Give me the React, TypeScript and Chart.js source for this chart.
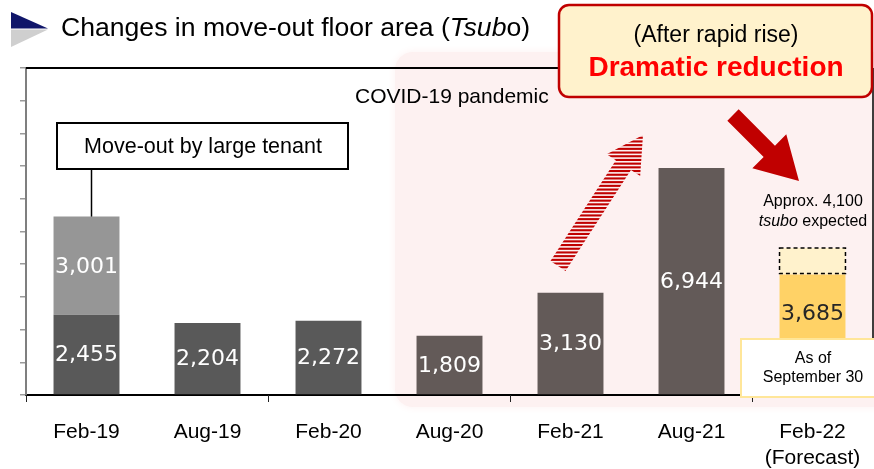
import React, { useEffect, useRef } from "react";
import { Chart, registerables } from "chart.js";

Chart.register(...registerables);

// ---------- data ----------
const categories: (string | string[])[] = [
  "Feb-19",
  "Aug-19",
  "Feb-20",
  "Aug-20",
  "Feb-21",
  "Aug-21",
  ["Feb-22", "(Forecast)"],
];
const moveOutArea = [2455, 2204, 2272, 1809, 3130, 6944, 3685];
const largeTenantArea = [3001, null, null, null, null, null, null];
const forecastRemainder = [null, null, null, null, null, null, 810];
const yMin = 0;
const yMax = 10000;
const yStep = 1000;

const moveOutColors = ["#595959", "#595959", "#595959", "#635a58", "#635a58", "#635a58", "#FFD266"];
const moveOutLabelColors = ["#ffffff", "#ffffff", "#ffffff", "#ffffff", "#ffffff", "#ffffff", "#262626"];
const largeTenantColor = "#969696";
const forecastColor = "#FFF2CC";

const SANS = '"Liberation Sans", Arial, sans-serif';
const NUM = '"DejaVu Sans", Verdana, sans-serif';

function rr(ctx: CanvasRenderingContext2D, x: number, y: number, w: number, h: number, r: number) {
  ctx.beginPath();
  ctx.moveTo(x + r, y);
  ctx.lineTo(x + w - r, y);
  ctx.arcTo(x + w, y, x + w, y + r, r);
  ctx.lineTo(x + w, y + h - r);
  ctx.arcTo(x + w, y + h, x + w - r, y + h, r);
  ctx.lineTo(x + r, y + h);
  ctx.arcTo(x, y + h, x, y + h - r, r);
  ctx.lineTo(x, y + r);
  ctx.arcTo(x, y, x + r, y, r);
  ctx.closePath();
}

function arrowPath(
  ctx: CanvasRenderingContext2D,
  tx: number, ty: number, px: number, py: number,
  shaftHalf: number, headHalf: number, headLen: number
) {
  const dx = px - tx, dy = py - ty;
  const L = Math.hypot(dx, dy);
  const ux = dx / L, uy = dy / L;
  const nx = -uy, ny = ux;
  const bx = px - ux * headLen, by = py - uy * headLen;
  ctx.beginPath();
  ctx.moveTo(tx + nx * shaftHalf, ty + ny * shaftHalf);
  ctx.lineTo(bx + nx * shaftHalf, by + ny * shaftHalf);
  ctx.lineTo(bx + nx * headHalf, by + ny * headHalf);
  ctx.lineTo(px, py);
  ctx.lineTo(bx - nx * headHalf, by - ny * headHalf);
  ctx.lineTo(bx - nx * shaftHalf, by - ny * shaftHalf);
  ctx.lineTo(tx - nx * shaftHalf, ty - ny * shaftHalf);
  ctx.closePath();
}

const decorPlugin = {
  id: "decor",
  beforeDraw(chart: any) {
    const ctx: CanvasRenderingContext2D = chart.ctx;
    ctx.save();
    ctx.fillStyle = "#fdf1f1";
    ctx.shadowColor = "#fdf1f1";
    ctx.shadowBlur = 8;
    rr(ctx, 395, 52, 500, 355, 18);
    ctx.fill();
    ctx.restore();
  },
  afterDatasetsDraw(chart: any) {
    const ctx: CanvasRenderingContext2D = chart.ctx;
    ctx.save();
    // dashed outline for forecast remainder
    const m2 = chart.getDatasetMeta(2);
    m2.data.forEach((el: any, i: number) => {
      if (forecastRemainder[i] == null) return;
      const left = el.x - el.width / 2;
      ctx.setLineDash([4, 3]);
      ctx.strokeStyle = "#000";
      ctx.lineWidth = 1.5;
      ctx.strokeRect(left, el.y, el.width, el.base - el.y - 1);
      ctx.setLineDash([]);
    });
    // value labels
    ctx.font = `22px ${NUM}`;
    ctx.textAlign = "center";
    ctx.textBaseline = "middle";
    const m0 = chart.getDatasetMeta(0);
    m0.data.forEach((el: any, i: number) => {
      const v = moveOutArea[i];
      if (v == null) return;
      ctx.fillStyle = moveOutLabelColors[i];
      let y = (el.y + el.base) / 2;
      if (i === categories.length - 1) y = el.y + 39;
      ctx.fillText(v.toLocaleString("en-US"), el.x, y + 1);
    });
    const m1 = chart.getDatasetMeta(1);
    m1.data.forEach((el: any, i: number) => {
      const v = largeTenantArea[i];
      if (v == null) return;
      ctx.fillStyle = "#ffffff";
      ctx.fillText(v.toLocaleString("en-US"), el.x, (el.y + el.base) / 2 + 2);
    });
    ctx.restore();
  },
  afterDraw(chart: any) {
    const ctx: CanvasRenderingContext2D = chart.ctx;
    const ca = chart.chartArea;
    const xs = chart.scales.x;
    ctx.save();

    // frame: top and right
    ctx.strokeStyle = "#000";
    ctx.lineWidth = 2;
    ctx.beginPath();
    ctx.moveTo(ca.left, ca.top);
    ctx.lineTo(ca.right, ca.top);
    ctx.stroke();
    ctx.lineWidth = 1.5;
    ctx.beginPath();
    ctx.moveTo(ca.right, ca.top);
    ctx.lineTo(ca.right, ca.bottom);
    ctx.stroke();

    // x tick marks at every other category boundary
    const step = (ca.right - ca.left) / categories.length;
    ctx.lineWidth = 1;
    ctx.strokeStyle = "#222";
    for (let i = 0; i < categories.length; i += 2) {
      const bx = Math.round(xs.getPixelForValue(i) - step / 2) + 0.5;
      ctx.beginPath();
      ctx.moveTo(bx, ca.bottom);
      ctx.lineTo(bx, ca.bottom + 7);
      ctx.stroke();
    }

    // COVID-19 text
    ctx.fillStyle = "#000";
    ctx.font = `21px ${SANS}`;
    ctx.textAlign = "left";
    ctx.textBaseline = "middle";
    ctx.fillText("COVID-19 pandemic", 355, 97);

    // Move-out by large tenant box + connector
    const m1 = chart.getDatasetMeta(1);
    const el0 = m1.data[0];
    ctx.strokeStyle = "#000";
    ctx.lineWidth = 1.5;
    ctx.beginPath();
    ctx.moveTo(91.5, 169);
    ctx.lineTo(91.5, el0.y);
    ctx.stroke();
    ctx.fillStyle = "#fff";
    ctx.fillRect(57, 123, 291, 46);
    ctx.lineWidth = 2;
    ctx.strokeRect(57, 123, 291, 46);
    ctx.fillStyle = "#000";
    ctx.font = `21.5px ${SANS}`;
    ctx.textAlign = "center";
    ctx.fillText("Move-out by large tenant", 203, 147);

    // striped arrow (rapid rise)
    ctx.save();
    arrowPath(ctx, 558, 266, 643, 135, 9, 20, 36);
    ctx.clip();
    ctx.fillStyle = "#C00000";
    for (let y = 133; y < 272; y += 3.7) {
      ctx.fillRect(540, y, 120, 2.1);
    }
    ctx.restore();

    // solid red arrow (reduction)
    ctx.fillStyle = "#C00000";
    arrowPath(ctx, 733, 115, 799, 181, 8, 24, 42);
    ctx.fill();

    // callout box
    ctx.fillStyle = "#FFF2CC";
    rr(ctx, 559, 5, 313, 92, 10);
    ctx.fill();
    ctx.strokeStyle = "#C00000";
    ctx.lineWidth = 2.5;
    ctx.stroke();
    ctx.fillStyle = "#000";
    ctx.font = `23px ${SANS}`;
    ctx.textAlign = "center";
    ctx.fillText("(After rapid rise)", 716, 36);
    ctx.fillStyle = "#FF0000";
    ctx.font = `bold 28px ${SANS}`;
    ctx.fillText("Dramatic reduction", 716, 68);

    // Approx text
    ctx.fillStyle = "#000";
    ctx.font = `16px ${SANS}`;
    ctx.fillText("Approx. 4,100", 813, 202);
    const p1 = "tsubo";
    const p2 = " expected";
    ctx.font = `italic 16px ${SANS}`;
    const w1 = ctx.measureText(p1).width;
    ctx.font = `16px ${SANS}`;
    const w2 = ctx.measureText(p2).width;
    const sx = 813 - (w1 + w2) / 2;
    ctx.textAlign = "left";
    ctx.font = `italic 16px ${SANS}`;
    ctx.fillText(p1, sx, 222);
    ctx.font = `16px ${SANS}`;
    ctx.fillText(p2, sx + w1, 222);

    // As of September 30 box
    ctx.fillStyle = "#fff";
    ctx.fillRect(741, 339, 140, 58);
    ctx.strokeStyle = "#FFE699";
    ctx.lineWidth = 2;
    ctx.strokeRect(741, 339, 140, 58);
    ctx.fillStyle = "#000";
    ctx.textAlign = "center";
    ctx.font = `16px ${SANS}`;
    ctx.fillText("As of", 813, 359);
    ctx.fillText("September 30", 813, 378);

    // title icon
    ctx.fillStyle = "#10166a";
    ctx.beginPath();
    ctx.moveTo(11, 12);
    ctx.lineTo(48, 28.5);
    ctx.lineTo(11, 28.5);
    ctx.closePath();
    ctx.fill();
    ctx.fillStyle = "#cfcfcf";
    ctx.beginPath();
    ctx.moveTo(11, 29.5);
    ctx.lineTo(48, 29.5);
    ctx.lineTo(11, 47);
    ctx.closePath();
    ctx.fill();

    // title
    ctx.fillStyle = "#000";
    ctx.textAlign = "left";
    ctx.textBaseline = "alphabetic";
    let tx = 61;
    const parts: [string, boolean][] = [
      ["Changes in move-out floor area (", false],
      ["Tsub", true],
      ["o)", false],
    ];
    for (const [t, it] of parts) {
      ctx.font = `${it ? "italic " : ""}26.6px ${SANS}`;
      ctx.fillText(t, tx, 36);
      tx += ctx.measureText(t).width;
    }

    ctx.restore();
  },
};

export default function App() {
  const ref = useRef<HTMLCanvasElement | null>(null);

  useEffect(() => {
    if (!ref.current) return;
    const chart = new Chart(ref.current, {
      type: "bar",
      data: {
        labels: categories as any,
        datasets: [
          {
            label: "Move-out",
            data: moveOutArea,
            backgroundColor: moveOutColors,
            borderWidth: 0,
            stack: "s",
          },
          {
            label: "Large tenant",
            data: largeTenantArea as any,
            backgroundColor: largeTenantColor,
            borderWidth: 0,
            stack: "s",
          },
          {
            label: "Forecast",
            data: forecastRemainder as any,
            backgroundColor: forecastColor,
            borderWidth: 0,
            stack: "s",
          },
        ],
      },
      options: {
        responsive: false,
        devicePixelRatio: 1,
        animation: false,
        layout: { padding: { top: 68, right: 1, left: 0, bottom: 0 } },
        datasets: { bar: { categoryPercentage: 1, barPercentage: 0.545 } },
        plugins: {
          legend: { display: false },
          tooltip: { enabled: false },
          title: { display: false },
        },
        scales: {
          x: {
            stacked: true,
            grid: { display: false, drawTicks: false },
            border: { display: true, color: "#000", width: 2 },
            ticks: {
              color: "#000",
              font: { family: SANS, size: 21 },
              padding: 25,
              maxRotation: 0,
              autoSkip: false,
            },
            afterFit: (s: any) => {
              s.height = 74;
              s.paddingLeft = 0;
              s.paddingRight = 0;
            },
          },
          y: {
            stacked: true,
            min: yMin,
            max: yMax,
            ticks: { display: false, stepSize: yStep },
            grid: {
              drawOnChartArea: false,
              drawTicks: true,
              tickLength: 6,
              color: "#9a9a9a",
              lineWidth: 1.5,
            },
            border: { display: true, color: "#7f7f7f", width: 2 },
            afterFit: (s: any) => {
              s.width = 26;
              s.paddingTop = 0;
              s.paddingBottom = 0;
            },
          },
        },
      },
      plugins: [decorPlugin],
    });
    return () => chart.destroy();
  }, []);

  return (
    <div style={{ position: "fixed", left: 0, top: 0, width: 874, height: 469, background: "#fff" }}>
      <canvas ref={ref} width={874} height={469} style={{ width: 874, height: 469, display: "block" }} />
    </div>
  );
}
